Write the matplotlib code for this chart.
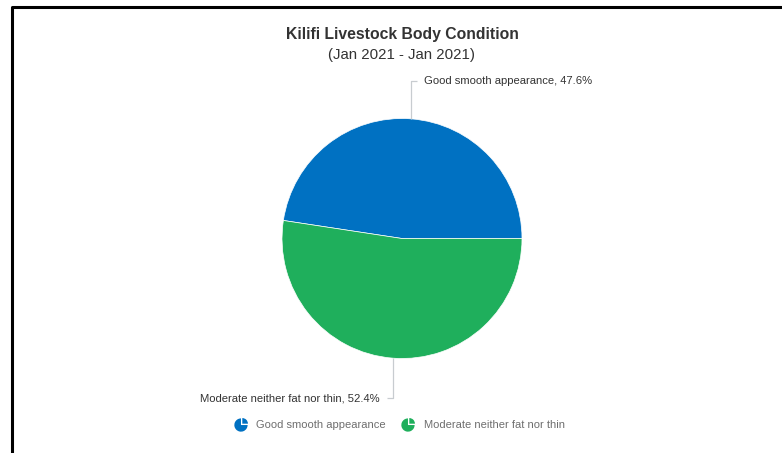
import numpy as np
import matplotlib
matplotlib.use("Agg")
import matplotlib.pyplot as plt
from matplotlib.lines import Line2D
from matplotlib.path import Path

# data
categories = ["Good smooth appearance", "Moderate neither fat nor thin"]
shares = [47.6, 52.4]
colors = ["#0071c2", "#1faf5c"]
title = "Kilifi Livestock Body Condition"
subtitle = "(Jan 2021 - Jan 2021)"

W, H = 782, 453
plt.rcParams["font.family"] = ["Liberation Sans", "DejaVu Sans"]

fig = plt.figure(figsize=(W / 100, H / 100), dpi=100)
fig.patch.set_facecolor("white")
ax = fig.add_axes([0, 0, 1, 1])

# pie in pixel coordinates (y measured up from bottom)
cx, cy, r = 402, H - 238.5, 120
wedges, _ = ax.pie(shares, colors=colors, startangle=0, counterclock=True,
                   center=(cx, cy), radius=r,
                   wedgeprops=dict(linewidth=0.5, edgecolor="white"))
ax.set_xlim(0, W)
ax.set_ylim(0, H)
ax.set_aspect("equal")
ax.axis("off")

# leader lines + labels
for i, w in enumerate(wedges):
    mid = np.deg2rad((w.theta1 + w.theta2) / 2)
    x0 = cx + r * np.cos(mid)
    y0 = cy + r * np.sin(mid)
    up = np.sin(mid) > 0
    y1 = y0 + 38 if up else y0 - 40
    side = 1 if up else -1
    x1 = x0 + 6 * side
    ax.plot([x0, x0, x1], [y0, y1, y1], color="#c8ccd0", lw=0.9,
            solid_capstyle="butt")
    ax.text(x1 + 7 * side, y1, "%s, %.1f%%" % (categories[i], shares[i]),
            ha="left" if up else "right", va="center", fontsize=8.1,
            color="#333333")

fig.text(cx / W, 1 - 35 / H, title, ha="center", va="center",
         fontsize=11.3, fontweight="bold", color="#333333")
fig.text(cx / W, 1 - 55 / H, subtitle, ha="center", va="center",
         fontsize=10.8, color="#333333")

# legend icons: pie with one slice pulled out
body = Path.wedge(90, 360)
body = Path(body.vertices - np.array([0.08, 0.08]), body.codes)
piece = Path.wedge(0, 90)
piece = Path(piece.vertices * 0.85 + np.array([0.12, 0.12]), piece.codes)
icon = Path.make_compound_path(body, piece)
handles = [Line2D([], [], linestyle="none", marker=icon, markersize=10.5,
                  markerfacecolor=c, markeredgewidth=0)
           for c in colors]
leg = fig.legend(handles, categories, loc="center", ncol=2,
                 bbox_to_anchor=(400 / W, 1 - 425 / H), frameon=False,
                 fontsize=8, handletextpad=0.9, columnspacing=1.5,
                 handlelength=1.0)
for t in leg.get_texts():
    t.set_color("#6e6e6e")

# black frame on top and left edge
fig.add_artist(Line2D([12 / W, 12 / W, 1], [0, 1 - 7 / H, 1 - 7 / H],
                      transform=fig.transFigure, color="black", lw=2.2))

fig.savefig("out.png", dpi=100, facecolor="white")
